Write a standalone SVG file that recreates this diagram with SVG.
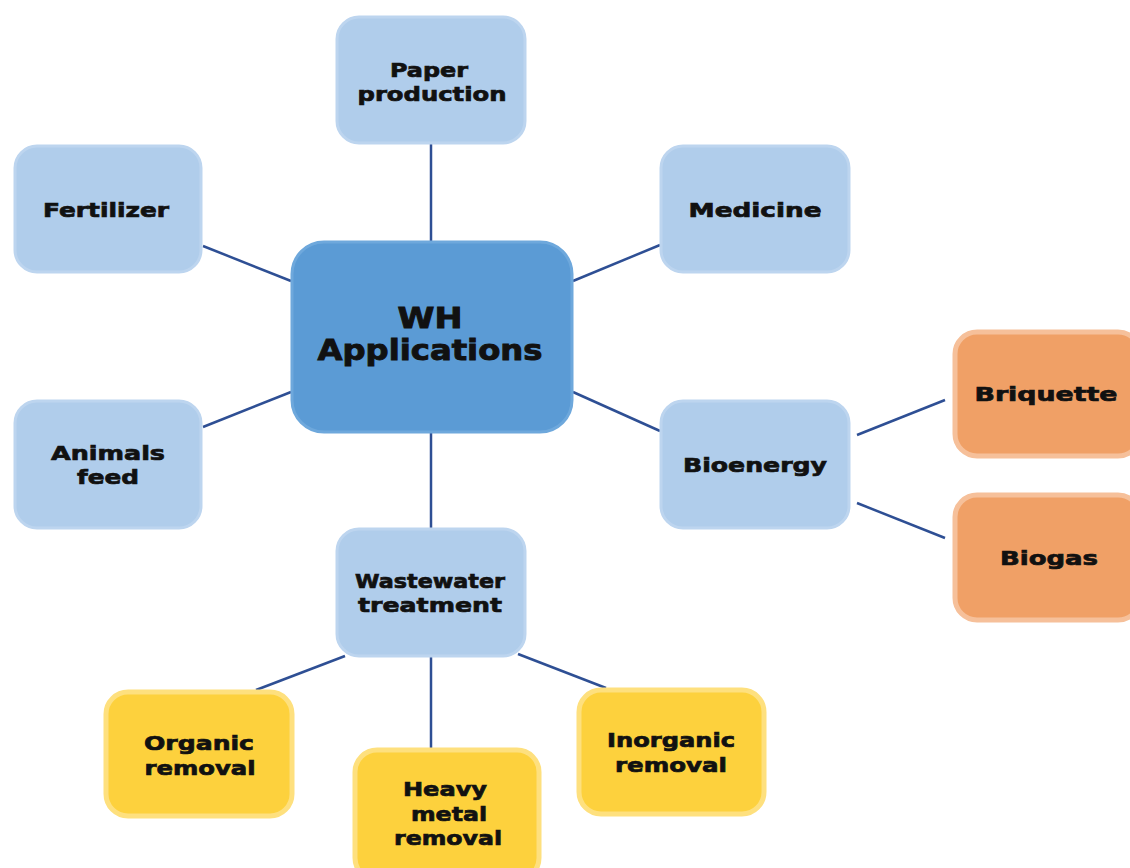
<svg xmlns="http://www.w3.org/2000/svg" width="1130" height="868" viewBox="0 0 1130 868">
<style>
.lb{fill:#B0CDEB;stroke:#BDD5EF;stroke-width:3}
.ct{fill:#5B9BD5;stroke:#6EA8DC;stroke-width:3}
.or{fill:#F0A066;stroke:#F6C09A;stroke-width:5}
.ye{fill:#FDD13D;stroke:#FEE07E;stroke-width:5}
text{font-family:"DejaVu Sans","Liberation Sans",sans-serif;font-weight:bold;fill:#111;stroke:#111;stroke-width:0.7;text-anchor:middle;font-size:20px}
.big{font-size:27.5px;stroke-width:0.9}
#connectors line{stroke:#2E4F94;stroke-width:2.5}
</style>
<rect width="1130" height="868" fill="#fff"/>
<g id="connectors">
<line x1="431" y1="143" x2="431" y2="241"/>
<line x1="203" y1="246" x2="291" y2="281"/>
<line x1="660" y1="245" x2="573" y2="281"/>
<line x1="203" y1="427" x2="291" y2="392"/>
<line x1="573" y1="392" x2="660" y2="431"/>
<line x1="431" y1="432" x2="431" y2="528"/>
<line x1="857" y1="435" x2="945" y2="400"/>
<line x1="857" y1="503" x2="945" y2="538"/>
<line x1="345" y1="656" x2="256" y2="690"/>
<line x1="431" y1="656" x2="431" y2="748"/>
<line x1="518" y1="654" x2="606" y2="688"/>
</g>
<g id="paper"><rect class="lb" x="337" y="17" width="188" height="126" rx="22"/><text x="429" y="77" textLength="78" lengthAdjust="spacingAndGlyphs">Paper</text><text x="432" y="101" textLength="149" lengthAdjust="spacingAndGlyphs">production</text></g>
<g id="fertilizer"><rect class="lb" x="15" y="146" width="186" height="126" rx="22"/><text x="106" y="217" textLength="126" lengthAdjust="spacingAndGlyphs">Fertilizer</text></g>
<g id="medicine"><rect class="lb" x="661" y="146" width="188" height="126" rx="22"/><text x="755" y="217" textLength="133" lengthAdjust="spacingAndGlyphs">Medicine</text></g>
<g id="center"><rect class="ct" x="292" y="242" width="280" height="190" rx="32"/><text class="big" x="430" y="328" textLength="65" lengthAdjust="spacingAndGlyphs">WH</text><text class="big" x="430" y="360" textLength="225" lengthAdjust="spacingAndGlyphs">Applications</text></g>
<g id="animals"><rect class="lb" x="15" y="401" width="186" height="127" rx="22"/><text x="108" y="460" textLength="114" lengthAdjust="spacingAndGlyphs">Animals</text><text x="108" y="484" textLength="62" lengthAdjust="spacingAndGlyphs">feed</text></g>
<g id="bioenergy"><rect class="lb" x="661" y="401" width="188" height="127" rx="22"/><text x="755" y="472" textLength="144" lengthAdjust="spacingAndGlyphs">Bioenergy</text></g>
<g id="wastewater"><rect class="lb" x="337" y="529" width="188" height="127" rx="22"/><text x="430" y="588" textLength="150" lengthAdjust="spacingAndGlyphs">Wastewater</text><text x="430" y="612" textLength="144" lengthAdjust="spacingAndGlyphs">treatment</text></g>
<g id="briquette"><rect class="or" x="955" y="332" width="185" height="124" rx="22"/><text x="1046" y="401" textLength="143" lengthAdjust="spacingAndGlyphs">Briquette</text></g>
<g id="biogas"><rect class="or" x="955" y="495" width="185" height="125" rx="22"/><text x="1049" y="565" textLength="98" lengthAdjust="spacingAndGlyphs">Biogas</text></g>
<g id="organic"><rect class="ye" x="106" y="692" width="186" height="124" rx="22"/><text x="199" y="750" textLength="110" lengthAdjust="spacingAndGlyphs">Organic</text><text x="200" y="775" textLength="111" lengthAdjust="spacingAndGlyphs">removal</text></g>
<g id="heavy"><rect class="ye" x="355" y="750" width="184" height="130" rx="22"/><text x="445" y="796" textLength="84" lengthAdjust="spacingAndGlyphs">Heavy</text><text x="449" y="821" textLength="76" lengthAdjust="spacingAndGlyphs">metal</text><text x="448" y="845" textLength="108" lengthAdjust="spacingAndGlyphs">removal</text></g>
<g id="inorganic"><rect class="ye" x="579" y="690" width="185" height="124" rx="22"/><text x="671" y="747" textLength="128" lengthAdjust="spacingAndGlyphs">Inorganic</text><text x="671" y="772" textLength="112" lengthAdjust="spacingAndGlyphs">removal</text></g>
</svg>
